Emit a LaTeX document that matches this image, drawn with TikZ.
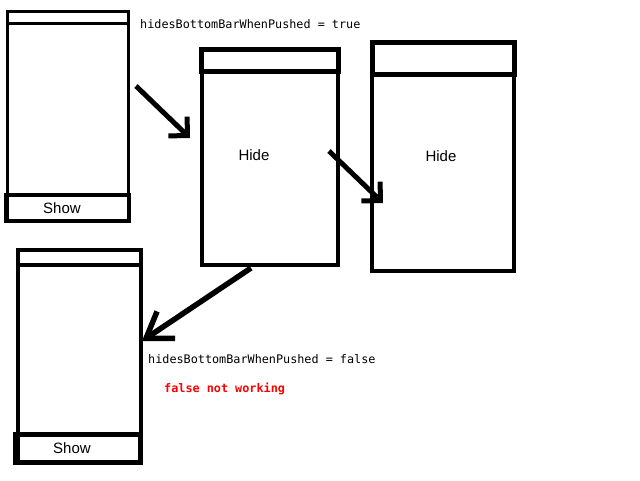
\documentclass[tikz,border=0pt]{standalone}
\usepackage{fontspec}
\setsansfont{Liberation Sans}
\setmonofont{DejaVu Sans Mono}
\usetikzlibrary{arrows.meta}
\definecolor{warnred}{HTML}{FF0000}

\begin{document}
\begin{tikzpicture}[x=1pt, y=-1pt,
  every node/.style={inner sep=0pt},
  screen/.style={draw=black, line width=4pt},
  thinscreen/.style={draw=black, line width=3.5pt},
  topbar/.style={draw=black, line width=5pt},
  flow/.style={line width=5pt, -{Straight Barb[angle=90:19pt, sharp]}},
  backflow/.style={line width=5.5pt, -{Straight Barb[angle=68:29pt, sharp]}},
  label/.style={font=\sffamily\fontsize{15}{17}\selectfont},
  code/.style={font=\ttfamily\fontsize{11.8}{14}\selectfont, anchor=west}]
  \useasboundingbox (0,0) rectangle (640,480);

  % first screen, bar shown
  \draw[thinscreen] (7.5,11.5) rectangle (128.5,220.5);
  \draw[thinscreen] (7.5,23.5) -- (128.5,23.5);
  \draw[screen] (5.5,195) rectangle (128.5,220.5);
  \node[label] (show1) at (62,208) {Show};
  \node[code] (truenote) at (140,24) {hidesBottomBarWhenPushed = true};

  % pushed screens, bar hidden
  \draw[screen] (202,49) rectangle (338,264.5);
  \draw[topbar] (201.5,49) rectangle (338,71.5);
  \node[label] (hide2) at (254,155) {Hide};

  \draw[screen] (372,42) rectangle (513.5,271);
  \draw[topbar] (372.5,42) rectangle (514,74);
  \node[label] (hide3) at (441,156) {Hide};

  % back to a screen with the bar
  \draw[screen] (18,250) rectangle (140.5,462.5);
  \draw[thinscreen] (18,265) -- (140.5,265);
  \draw[screen, line width=4.5pt] (15.5,434.5) rectangle (140.5,462.5);
  \node[label] (show4) at (72,448) {Show};
  \node[code] (falsenote) at (148,359) {hidesBottomBarWhenPushed = false};
  \node[code, text=warnred] (warn) at (164,389) {\bfseries false not working};

  \coordinate (a1s) at (136,86);
  \coordinate (a1e) at (190,138);
  \coordinate (a2s) at (329,151);
  \coordinate (a2e) at (383,203);
  \coordinate (a3s) at (251,268);
  \coordinate (a3e) at (142,341);
  \draw[flow] (a1s) -- (a1e);
  \draw[flow] (a2s) -- (a2e);
  \draw[backflow] (a3s) -- (a3e);
\end{tikzpicture}
\end{document}
